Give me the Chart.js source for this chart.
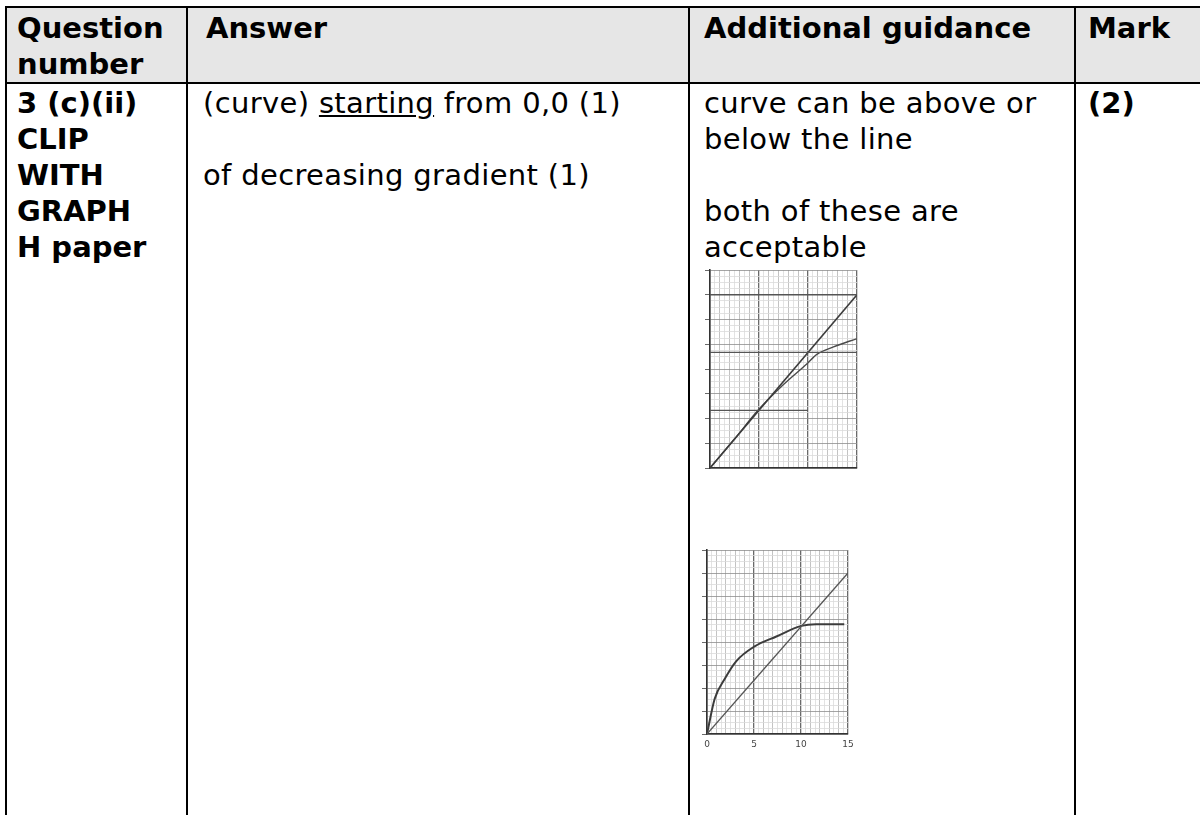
<!DOCTYPE html>
<html>
<head>
<meta charset="utf-8">
<script src="https://cdn.jsdelivr.net/npm/chart.js"></script>
<style>
html, body { margin: 0; padding: 0; background: #fff; }
body { width: 1200px; height: 815px; overflow: hidden; position: relative; font-family: "DejaVu Sans", Verdana, sans-serif; color: #000; }
.hd { position: absolute; left: 7px; top: 8px; width: 1193px; height: 74px; background: #e6e6e6; }
.hl { position: absolute; height: 2px; background: #000; left: 5px; width: 1195px; }
.vl { position: absolute; width: 2px; background: #000; top: 6px; height: 809px; }
.txt { position: absolute; font-size: 29px; line-height: 36px; white-space: nowrap; letter-spacing: 0.35px; }
.b { font-weight: bold; letter-spacing: 0; }
canvas { position: absolute; }
</style>
</head>
<body>
<div class="hd"></div>
<div class="hl" style="top:6px"></div>
<div class="hl" style="top:82px"></div>
<div class="vl" style="left:5px"></div>
<div class="vl" style="left:186px"></div>
<div class="vl" style="left:688px"></div>
<div class="vl" style="left:1074px"></div>

<div class="txt b" style="left:17px;top:10px">Question<br>number</div>
<div class="txt b" style="left:206px;top:10px">Answer</div>
<div class="txt b" style="left:704px;top:10px">Additional guidance</div>
<div class="txt b" style="left:1088px;top:10px">Mark</div>

<div class="txt b" style="left:17px;top:85px">3 (c)(ii)<br>CLIP<br>WITH<br>GRAPH<br>H paper</div>
<div class="txt" style="left:203px;top:85px">(curve) <u>starting</u> from 0,0 (1)<br>&nbsp;<br>of decreasing gradient (1)</div>
<div class="txt" style="left:704px;top:85px">curve can be above or<br>below the line<br>&nbsp;<br>both of these are<br>acceptable</div>
<div class="txt b" style="left:1088px;top:85px">(2)</div>

<canvas id="g1" width="180" height="222" style="left:690px;top:258px"></canvas>
<canvas id="g2" width="180" height="225" style="left:690px;top:540px"></canvas>

<script>
// axis ranges (grid squares)
const xRange = [0, 15];
const yRange = [0, 8];
const xLabels = [0, 5, 10, 15];

// straight line, same in both sketches
const lineX = [0, 15];
const lineY = [0, 7];

// sketch 1: curve falls below the line
const curveAX = [0, 2.5, 4.9, 7.5, 9.9, 10.9, 12.6, 15];
const curveAY = [0, 1.17, 2.33, 3.37, 4.21, 4.59, 4.89, 5.23];
// construction lines drawn on sketch 1
const guideLevels = [2.33, 4.67, 7];
const guideEnds = [10, 15, 15];

// sketch 2: curve rises above the line
const curveBX = [0, 0.82, 1.88, 3.12, 5.07, 7.38, 10.04, 11.6, 14.6];
const curveBY = [0, 1.53, 2.39, 3.17, 3.81, 4.24, 4.7, 4.77, 4.77];

function zip(xs, ys) {
  return xs.map((x, i) => ({ x: x, y: ys[i] }));
}
function isMult(v, m) {
  return Math.abs(v / m - Math.round(v / m)) < 1e-6;
}

function gridXColor(ctx) {
  const v = ctx.tick.value;
  if (isMult(v, 5)) return '#6a6a6a';
  if (isMult(v, 1)) return '#b4b4b4';
  return '#dcdcdc';
}
function gridXWidth(ctx) {
  return isMult(ctx.tick.value, 5) ? 1.3 : 0.8;
}
function gridYColor(ctx) {
  return isMult(ctx.tick.value, 1) ? '#8e8e8e' : '#dadada';
}
function tickYColor(ctx) {
  return isMult(ctx.tick.value, 1) ? '#444' : 'rgba(0,0,0,0)';
}

function makeGraph(id, datasets, showLabels, pad) {
  return new Chart(document.getElementById(id), {
    type: 'line',
    data: { datasets: datasets },
    options: {
      responsive: false,
      animation: false,
      events: [],
      layout: { padding: pad },
      plugins: { legend: { display: false }, tooltip: { enabled: false } },
      elements: {
        point: { radius: 0 },
        line: { borderColor: '#3c3c3c', borderWidth: 1.6, fill: false }
      },
      scales: {
        x: {
          type: 'linear', min: xRange[0], max: xRange[1],
          border: { color: '#333', width: 1.6 },
          grid: { color: gridXColor, lineWidth: gridXWidth, drawTicks: false },
          ticks: {
            display: showLabels, stepSize: 0.5, autoSkip: false, maxRotation: 0,
            padding: 5, color: '#444',
            font: { family: 'DejaVu Sans', size: 9 },
            callback: v => xLabels.some(l => Math.abs(v - l) < 1e-6) ? String(v) : ''
          }
        },
        y: {
          type: 'linear', min: yRange[0], max: yRange[1],
          border: { color: '#333', width: 1.6 },
          grid: { color: gridYColor, tickColor: tickYColor, tickLength: 5, lineWidth: 0.8 },
          ticks: { display: false, stepSize: 0.25 }
        }
      }
    }
  });
}

const guides = guideLevels.map((lv, i) => ({
  data: zip([0, guideEnds[i]], [lv, lv]),
  borderColor: '#555', borderWidth: 1.3
}));

makeGraph('g1', guides.concat([
  { data: zip(lineX, lineY) },
  { data: zip(curveAX, curveAY), tension: 0.4, cubicInterpolationMode: 'monotone', borderWidth: 1.4, borderColor: '#4a4a4a' }
]), false, { left: 15, right: 13, top: 12, bottom: 12 });

makeGraph('g2', [
  { data: zip(lineX, lineY), borderWidth: 1.3, borderColor: '#555' },
  { data: zip(curveBX, curveBY), tension: 0.4, cubicInterpolationMode: 'monotone', borderWidth: 2 }
], true, { left: 12, right: 22, top: 10, bottom: 10.2 });
</script>
</body>
</html>
